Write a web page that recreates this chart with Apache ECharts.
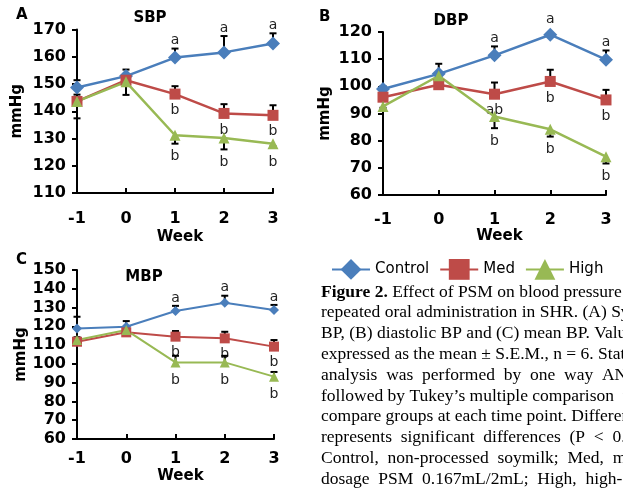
<!DOCTYPE html>
<html>
<head>
<meta charset="utf-8">
<script src="https://cdn.jsdelivr.net/npm/echarts@6/dist/echarts.min.js"></script>
<style>
html,body{margin:0;padding:0;background:#fff}
#chart{width:623px;height:491px}
</style>
</head>
<body>
<div id="chart"></div>
<script>
var weeks = ['-1', '0', '1', '2', '3'];
var groups = ['Control', 'Med', 'High'];
var colors = ['#4a7ebb', '#be4b48', '#98b954'];

// A - SBP
var sbpControl = [148.7, 152.9, 159.7, 161.6, 164.9];
var sbpMed     = [143.6, 151.4, 146.3, 139.2, 138.5];
var sbpHigh    = [143.6, 150.8, 131.2, 130.2, 128.1];
// signed S.E.M. bars (+ drawn upward, - drawn downward)
var sbpControlErr = [2.7, 2.4, 3.3, 6.0, 3.7];
var sbpMedErr     = [2.5, 2.0, 2.9, 3.4, 3.7];
var sbpHighErr    = [-6.2, -4.8, -3.1, -4.2, -1.0];
var sbpControlSig = ['', '', 'a', 'a', 'a'];
var sbpMedSig     = ['', '', 'b', 'b', 'b'];
var sbpHighSig    = ['', '', 'b', 'b', 'b'];

// B - DBP
var dbpControl = [99.0, 104.6, 111.4, 119.0, 109.8];
var dbpMed     = [96.0, 100.6, 97.1, 101.8, 95.0];
var dbpHigh    = [92.6, 103.9, 88.9, 84.2, 74.1];
var dbpControlErr = [1.0, 3.7, 3.3, 0.5, 3.4];
var dbpMedErr     = [1.0, 1.5, 4.3, 4.3, 3.7];
var dbpHighErr    = [-0.5, -2.1, -4.3, -2.7, -2.5];
var dbpControlSig = ['', '', 'a', 'a', 'a'];
var dbpMedSig     = ['', '', 'ab', 'b', 'b'];
var dbpHighSig    = ['', '', 'b', 'b', 'b'];

// C - MBP
var mbpControl = [118.9, 119.8, 128.2, 132.6, 128.7];
var mbpMed     = [111.8, 116.8, 114.5, 113.6, 109.2];
var mbpHigh    = [112.7, 118.0, 100.8, 100.8, 93.2];
var mbpControlErr = [6.2, 3.0, 2.7, 3.7, 2.7];
var mbpMedErr     = [1.5, 1.5, 3.0, 3.5, 3.5];
var mbpHighErr    = [1.5, 1.5, 3.5, 3.5, 2.5];
var mbpControlSig = ['', '', 'a', 'a', 'a'];
var mbpMedSig     = ['', '', 'b', 'b', 'b'];
var mbpHighSig    = ['', '', 'b', 'b', 'b'];

var captionLines = [
  '{b|Figure 2.} Effect of PSM on blood pressure',
  'repeated oral administration in SHR. (A) Systolic',
  'BP, (B) diastolic BP and (C) mean BP. Values are',
  'expressed as the mean \u00b1 S.E.M., n = 6. Statistical',
  'analysis  was  performed  by  one  way  ANOVA',
  'followed by Tukey\u2019s multiple comparison  test to',
  'compare groups at each time point. Different letters',
  'represents  significant  differences  (P  <  0.05).',
  'Control,  non-processed  soymilk;  Med,  medium-',
  'dosage  PSM  0.167mL/2mL;  High,  high-dosage'
];

var panels = [
  {grid: {left: 77, top: 29.5, width: 196, height: 163.5}, min: 110, max: 170, gapY: 52, gapX: 37, marginX: 18,
   vals: [sbpControl, sbpMed, sbpHigh], errs: [sbpControlErr, sbpMedErr, sbpHighErr], sigs: [sbpControlSig, sbpMedSig, sbpHighSig],
   sizes: [14, 11, 11], lw: 2.5},
  {grid: {left: 383, top: 32, width: 223, height: 163}, min: 60, max: 120, gapY: 50, gapX: 32, marginX: 17,
   vals: [dbpControl, dbpMed, dbpHigh], errs: [dbpControlErr, dbpMedErr, dbpHighErr], sigs: [dbpControlSig, dbpMedSig, dbpHighSig],
   sizes: [14, 11, 11], lw: 2.5},
  {grid: {left: 77, top: 270, width: 197, height: 169}, min: 60, max: 150, gapY: 42, gapX: 30, marginX: 12,
   vals: [mbpControl, mbpMed, mbpHigh], errs: [mbpControlErr, mbpMedErr, mbpHighErr], sigs: [mbpControlSig, mbpMedSig, mbpHighSig],
   sizes: [10, 10, 10], lw: 2}
];

var symbols = ['diamond', 'rect', 'triangle'];
var boldFont = 'DejaVu Sans';

function errSeries(pi, gi, values, errs, sigs, half) {
  return {
    type: 'custom',
    xAxisIndex: pi,
    yAxisIndex: pi,
    z: 1,
    silent: true,
    data: values.map(function (v, k) { return [k, v]; }),
    renderItem: function (params, api) {
      var k = params.dataIndex;
      var p = api.coord([k, values[k]]);
      var q = api.coord([k, values[k] + errs[k]]);
      var kids = [];
      kids.push({type: 'line', shape: {x1: p[0], y1: p[1], x2: q[0], y2: q[1]}, style: {stroke: '#000', lineWidth: 2}});
      kids.push({type: 'line', shape: {x1: q[0] - 3.5, y1: q[1], x2: q[0] + 3.5, y2: q[1]}, style: {stroke: '#000', lineWidth: 2}});
      if (sigs[k]) {
        if (gi === 0) {
          var top = Math.min(q[1], p[1] - half);
          kids.push({type: 'text', style: {text: sigs[k], x: p[0], y: top - 1, align: 'center', verticalAlign: 'bottom',
            fontSize: 14, fontFamily: 'DejaVu Sans', fill: '#222'}});
        } else {
          var bot = Math.max(q[1], p[1] + half);
          kids.push({type: 'text', style: {text: sigs[k], x: p[0], y: bot + (gi === 2 ? 6 : 4), align: 'center', verticalAlign: 'top',
            fontSize: 14, fontFamily: 'DejaVu Sans', fill: '#222'}});
        }
      }
      return {type: 'group', children: kids};
    }
  };
}

var grids = [], xAxes = [], yAxes = [], series = [];
panels.forEach(function (pn, pi) {
  grids.push(pn.grid);
  xAxes.push({
    type: 'category', gridIndex: pi, data: weeks, boundaryGap: false,
    name: 'Week', nameLocation: 'middle', nameGap: pn.gapX,
    nameTextStyle: {fontFamily: boldFont, fontWeight: 'bold', fontSize: 15, color: '#000', padding: [0, 0, 0, 10]},
    axisLine: {lineStyle: {color: '#000', width: 2}},
    axisTick: {inside: true, length: 5, lineStyle: {color: '#000', width: 2}},
    axisLabel: {fontFamily: boldFont, fontWeight: 'bold', fontSize: 16, color: '#000', margin: pn.marginX}
  });
  yAxes.push({
    type: 'value', gridIndex: pi, min: pn.min, max: pn.max, interval: 10,
    name: 'mmHg', nameLocation: 'middle', nameGap: pn.gapY, nameRotate: 90,
    nameTextStyle: {fontFamily: boldFont, fontWeight: 'bold', fontSize: 15, color: '#000'},
    axisLine: {show: true, lineStyle: {color: '#000', width: 2}},
    axisTick: {show: true, length: 5, lineStyle: {color: '#000', width: 2}},
    splitLine: {show: false},
    axisLabel: {fontFamily: boldFont, fontWeight: 'bold', fontSize: 16, color: '#000', margin: 11}
  });
  groups.forEach(function (g, gi) {
    series.push(errSeries(pi, gi, pn.vals[gi], pn.errs[gi], pn.sigs[gi], pn.sizes[gi] / 2));
  });
  groups.forEach(function (g, gi) {
    series.push({
      name: g, type: 'line', xAxisIndex: pi, yAxisIndex: pi, z: 3,
      data: pn.vals[gi],
      symbol: symbols[gi], symbolSize: pn.sizes[gi], showAllSymbol: true,
      lineStyle: {color: colors[gi], width: pn.lw},
      itemStyle: {color: colors[gi]},
      emphasis: {disabled: true},
      animation: false
    });
  });
});

var graphics = [
  {type: 'text', left: 16, top: 8, style: {text: 'A', font: 'bold 15px DejaVu Sans', fill: '#000'}},
  {type: 'text', left: 319, top: 10, style: {text: 'B', font: 'bold 15px DejaVu Sans', fill: '#000'}},
  {type: 'text', left: 16, top: 253, style: {text: 'C', font: 'bold 15px DejaVu Sans', fill: '#000'}},
  {type: 'text', x: 150, y: 18, style: {text: 'SBP', font: 'bold 15px DejaVu Sans', fill: '#000', align: 'center', verticalAlign: 'middle'}},
  {type: 'text', x: 451, y: 21, style: {text: 'DBP', font: 'bold 15px DejaVu Sans', fill: '#000', align: 'center', verticalAlign: 'middle'}},
  {type: 'text', x: 144, y: 277, style: {text: 'MBP', font: 'bold 15px DejaVu Sans', fill: '#000', align: 'center', verticalAlign: 'middle'}}
];
captionLines.forEach(function (t, i) {
  graphics.push({
    type: 'text', x: 321, y: 292 + i * 20.8,
    style: {
      text: t, fontFamily: 'Liberation Serif', fontSize: 17.5, fill: '#000', verticalAlign: 'middle',
      rich: {b: {fontFamily: 'Liberation Serif', fontSize: 17.5, fontWeight: 'bold', fill: '#000'}}
    }
  });
});

var chart = echarts.init(document.getElementById('chart'));
chart.setOption({
  animation: false,
  backgroundColor: '#fff',
  grid: grids,
  xAxis: xAxes,
  yAxis: yAxes,
  legend: {
    data: groups, left: 326, top: 254, itemWidth: 38, itemHeight: 26, itemGap: 10,
    textStyle: {fontFamily: 'DejaVu Sans', fontSize: 15, color: '#000'},
    selectedMode: false
  },
  graphic: graphics,
  series: series
});
</script>
</body>
</html>
